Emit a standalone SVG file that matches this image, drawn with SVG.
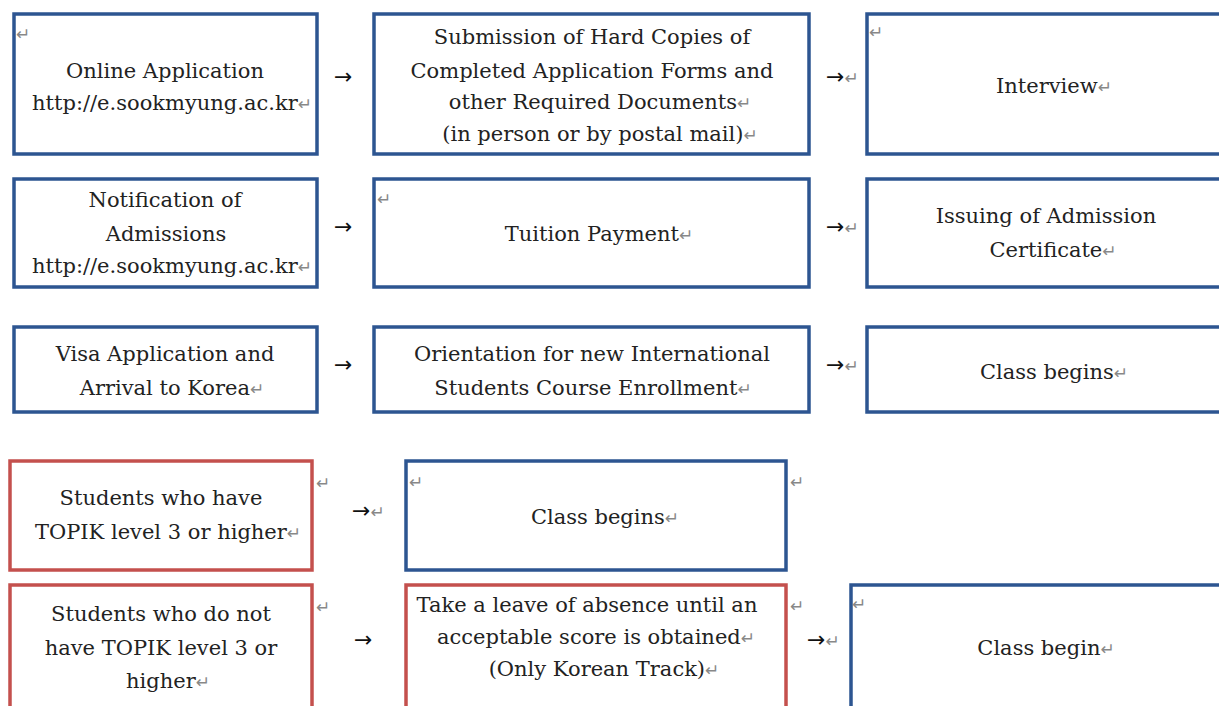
<svg xmlns="http://www.w3.org/2000/svg" width="1219" height="706" viewBox="0 0 1219 706">
<style>
.bb{fill:#fff;stroke:#2D5591;stroke-width:3.5}
.rb{fill:#fff;stroke:#C4504D;stroke-width:3.5}
.t{font-family:"DejaVu Serif","Liberation Serif",serif;font-size:21px;fill:#222;text-anchor:middle}
.p{font-family:"DejaVu Sans",sans-serif;font-size:17px;fill:#888}
.pm{font-family:"DejaVu Sans",sans-serif;font-size:17px;fill:#888}
.ar{font-family:"DejaVu Sans",sans-serif;font-size:22px;fill:#111}
</style>
<rect width="1219" height="706" fill="#fff"/>
<g id="n1"><rect class="bb" x="14" y="14" width="303" height="140"/>
<text class="pm" x="16" y="40">↵</text>
<text class="t" x="165" y="78">Online Application</text>
<text class="t" x="172" y="110">http://e.sookmyung.ac.kr<tspan class="p">↵</tspan></text></g>
<g id="n2"><rect class="bb" x="374" y="14" width="435" height="140"/>
<text class="t" x="592" y="44">Submission of Hard Copies of</text>
<text class="t" x="592" y="78">Completed Application Forms and</text>
<text class="t" x="600" y="109">other Required Documents<tspan class="p">↵</tspan></text>
<text class="t" x="600" y="141">(in person or by postal mail)<tspan class="p">↵</tspan></text></g>
<g id="n3"><rect class="bb" x="867" y="14" width="370" height="140"/>
<text class="pm" x="869" y="38">↵</text>
<text class="t" x="1054" y="93">Interview<tspan class="p">↵</tspan></text></g>
<g id="n4"><rect class="bb" x="14" y="179" width="303" height="108"/>
<text class="t" x="165" y="207">Notification of</text>
<text class="t" x="166" y="241">Admissions</text>
<text class="t" x="172" y="273">http://e.sookmyung.ac.kr<tspan class="p">↵</tspan></text></g>
<g id="n5"><rect class="bb" x="374" y="179" width="435" height="108"/>
<text class="pm" x="377" y="205">↵</text>
<text class="t" x="599" y="241">Tuition Payment<tspan class="p">↵</tspan></text></g>
<g id="n6"><rect class="bb" x="867" y="179" width="370" height="108"/>
<text class="t" x="1046" y="223">Issuing of Admission</text>
<text class="t" x="1053" y="257">Certificate<tspan class="p">↵</tspan></text></g>
<g id="n7"><rect class="bb" x="14" y="327" width="303" height="85"/>
<text class="t" x="165" y="361">Visa Application and</text>
<text class="t" x="172" y="395">Arrival to Korea<tspan class="p">↵</tspan></text></g>
<g id="n8"><rect class="bb" x="374" y="327" width="435" height="85"/>
<text class="t" x="592" y="361">Orientation for new International</text>
<text class="t" x="593" y="395">Students Course Enrollment<tspan class="p">↵</tspan></text></g>
<g id="n9"><rect class="bb" x="867" y="327" width="370" height="85"/>
<text class="t" x="1054" y="379">Class begins<tspan class="p">↵</tspan></text></g>
<g id="n10"><rect class="rb" x="10" y="461" width="302" height="109"/>
<text class="t" x="161" y="505">Students who have</text>
<text class="t" x="168" y="539">TOPIK level 3 or higher<tspan class="p">↵</tspan></text>
<text class="pm" x="316" y="489" font-size="12">↵</text></g>
<g id="n11"><rect class="bb" x="406" y="461" width="380" height="109"/>
<text class="pm" x="409" y="488">↵</text>
<text class="t" x="605" y="524">Class begins<tspan class="p">↵</tspan></text>
<text class="pm" x="790" y="488" font-size="12">↵</text></g>
<g id="n12"><rect class="rb" x="10" y="585" width="302" height="140"/>
<text class="t" x="161" y="621">Students who do not</text>
<text class="t" x="161" y="655">have TOPIK level 3 or</text>
<text class="t" x="168" y="688">higher<tspan class="p">↵</tspan></text>
<text class="pm" x="316" y="613" font-size="12">↵</text></g>
<g id="n13"><rect class="rb" x="406" y="585" width="380" height="140"/>
<text class="t" x="587" y="612">Take a leave of absence until an</text>
<text class="t" x="596" y="644">acceptable score is obtained<tspan class="p">↵</tspan></text>
<text class="t" x="604" y="676">(Only Korean Track)<tspan class="p">↵</tspan></text>
<text class="pm" x="790" y="612" font-size="12">↵</text></g>
<g id="n14"><rect class="bb" x="851" y="585" width="380" height="140"/>
<text class="pm" x="852" y="610">↵</text>
<text class="t" x="1046" y="655">Class begin<tspan class="p">↵</tspan></text></g>
<g id="connectors">
<text class="ar" x="334" y="84">→</text>
<text class="ar" x="826" y="84">→<tspan class="p">↵</tspan></text>
<text class="ar" x="334" y="234">→</text>
<text class="ar" x="826" y="234">→<tspan class="p">↵</tspan></text>
<text class="ar" x="334" y="372">→</text>
<text class="ar" x="826" y="372">→<tspan class="p">↵</tspan></text>
<text class="ar" x="352" y="518">→<tspan class="p">↵</tspan></text>
<text class="ar" x="354" y="647">→</text>
<text class="ar" x="807" y="647">→<tspan class="p">↵</tspan></text>
</g>
</svg>
